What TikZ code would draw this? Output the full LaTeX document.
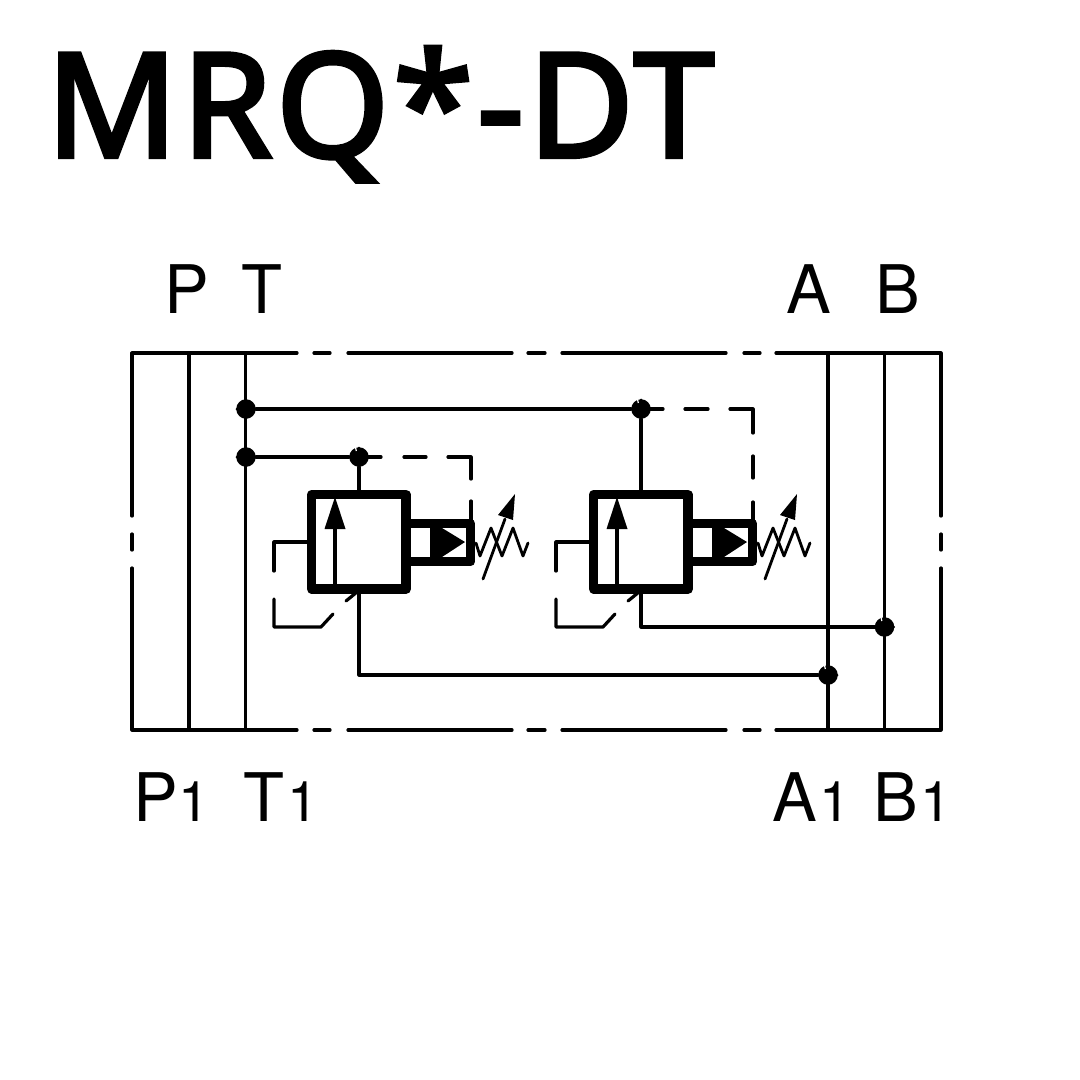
\documentclass[tikz,border=0pt]{standalone}
\usepackage{fontspec}
\setmainfont{TeX Gyre Heros}
\newfontfamily\titlefont{Noto Sans}[FakeBold=3,LetterSpace=2.8]
\tikzset{
  lin/.style={line width=3.2bp,line cap=round,line join=round,black},
  thin/.style={line width=2.8bp,line cap=butt,line join=round,black},
  heavy/.style={line width=9.5bp,line join=round,black},
  lab/.style={inner sep=0pt,anchor=base west,font=\fontsize{67bp}{67bp}\selectfont},
  sub/.style={inner sep=0pt,anchor=base west,font=\fontsize{56bp}{56bp}\selectfont},
  junction/.style={circle,fill=black,draw=none,minimum size=19.5bp,inner sep=0pt},
}
\newcommand{\valveunit}[1]{%
\begin{scope}[xshift=#1bp]
  \draw[heavy] (311.7,494.7) rectangle (406.2,589);
  \draw[heavy] (406,523.7) -- (470.5,523.7) -- (470.5,561.5) -- (406,561.5);
  \fill[black] (430,528) -- (442,528) -- (465,542) -- (442,557) -- (430,557) -- cycle;
  \draw[lin,line cap=butt] (335,584) -- (335,525);
  \fill[black] (335,497) -- (345.5,529) -- (324.5,529) -- cycle;
  \draw[lin] (308,542) -- (274,542) -- (274,571);
  \draw[lin] (274,599) -- (274,627) -- (321,627) -- (333,614);
  \draw[lin] (346,601) -- (357,592);
  \draw[thin,line cap=round] (476,543) -- (480,556) -- (491,528) -- (502,556) -- (513,528) -- (523,556) -- (528,543);
  \draw[thin,line cap=round] (483,579) -- (505,519);
  \fill[black] (515,494) -- (513,520) -- (498,515) -- cycle;
\end{scope}}
% junction: named dot with slightly pointed corners; #4=1 adds the small notch
\newcommand{\junc}[4]{%
  \node[junction] (#1) at (#2,#3) {};
  \fill[black] (#2-10.5,#3) -- (#2,#3-10.5) -- (#2+10.5,#3) -- (#2,#3+10.5) -- cycle;
  \ifnum#4=1 \draw[white,line width=1.2bp] (#2-3.5,#3-10) -- (#2-2.7,#3-6); \fi}
\begin{document}
\begin{tikzpicture}[x=1bp,y=-1bp]
\useasboundingbox (0,0) rectangle (1080,1080);
\fill[white] (0,0) rectangle (1080,1080);
% title
\node[inner sep=0pt,anchor=base west] (title) at (46,157) {\titlefont\fontsize{145bp}{145bp}\selectfont MRQ*-DT};
% port labels
\node[lab] (lP) at (164,313) {P};
\node[lab] (lT) at (241,313) {T};
\node[lab] (lA) at (786,313) {A};
\node[lab] (lB) at (875,313) {B};
\node[lab] (lP1) at (133,821) {P};
\node[sub] (sP1) at (178,821) {1};
\node[lab] (lT1) at (243,821) {T};
\node[sub] (sT1) at (287,821) {1};
\node[lab] (lA1) at (772,821) {A};
\node[sub] (sA1) at (819,821) {1};
\node[lab] (lB1) at (873,821) {B};
\node[sub] (sB1) at (920,821) {1};
% frame
\draw[lin] (297,353) -- (132,353) -- (132,516);
\draw[lin] (132,534) -- (132,550);
\draw[lin] (132,568) -- (132,730) -- (297,730);
\draw[lin] (776,353) -- (941,353) -- (941,516);
\draw[lin] (941,534) -- (941,550);
\draw[lin] (941,568) -- (941,730) -- (776,730);
\foreach \yy in {353,730}{
  \draw[lin] (314,\yy) -- (330,\yy);
  \draw[lin] (348,\yy) -- (512,\yy);
  \draw[lin] (528,\yy) -- (545,\yy);
  \draw[lin] (562,\yy) -- (726,\yy);
  \draw[lin] (744,\yy) -- (760,\yy);
}
\foreach \xx in {189,245.5,828,884.5}{
  \draw[lin] (\xx,353) -- (\xx,730);
}
% valves
\valveunit{0}
\valveunit{282}
\coordinate (v1top) at (359,490);
\coordinate (v2top) at (641,490);
\coordinate (v1bot) at (359,593);
\coordinate (v2bot) at (641,593);
\coordinate (c1) at (359,675);
\coordinate (c2) at (641,627);
% dashed pilot lines
\draw[lin] (641,409) -- (663,409);
\draw[lin] (685,409) -- (708,409);
\draw[lin] (730,409) -- (753,409) -- (753,433);
\draw[lin] (753,456) -- (753,478);
\draw[lin] (753,502) -- (753,520);
\draw[lin] (359,457) -- (381,457);
\draw[lin] (404,457) -- (426,457);
\draw[lin] (448,457) -- (471,457) -- (471,479);
\draw[lin] (471,501) -- (471,520);
% junctions
\junc{j1}{246}{409}{0}
\junc{j2}{246}{457}{0}
\junc{j3}{641}{409}{1}
\junc{j4}{359}{457}{1}
\junc{j5}{884.5}{627}{1}
\junc{j6}{828}{675}{1}
% pipes
\draw[lin] (j1) -- (j3);
\draw[lin] (j2) -- (j4);
\draw[lin] (j4) -- (v1top);
\draw[lin] (j3) -- (v2top);
\draw[lin] (v1bot) -- (c1) -- (j6);
\draw[lin] (v2bot) -- (c2) -- (j5);
\end{tikzpicture}
\end{document}
